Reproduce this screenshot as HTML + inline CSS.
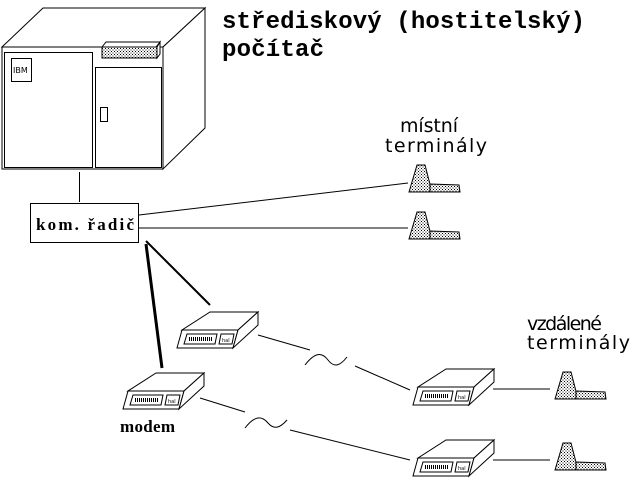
<!DOCTYPE html>
<html><head><meta charset="utf-8"><style>
html,body{margin:0;padding:0;background:#fff;}
svg{display:block;}
.t{font-family:"Liberation Mono",monospace;}
.s{font-family:"DejaVu Sans","Liberation Sans",sans-serif;}
</style></head><body>
<svg width="640" height="480" viewBox="0 0 640 480" xmlns="http://www.w3.org/2000/svg">
<defs>
<pattern id="dots" width="3" height="3" patternUnits="userSpaceOnUse">
<rect width="3" height="3" fill="#fff"/><rect x="0" y="0" width="1" height="1" fill="#000"/><rect x="1.5" y="1.5" width="1" height="1" fill="#000"/>
</pattern>
<g id="modem" fill="none" stroke="#000" stroke-width="1">
<polygon points="33,0 81,0 61,18 5,18" fill="#fff"/>
<polygon points="5,18 61,18 56,36 0,36" fill="#fff"/>
<polygon points="61,18 81,0 81,13 56,36" fill="#fff"/>
<polygon points="10,22 40,22 38,32 7,32"/>
<polygon points="44,22 57,22 55,32 42,32"/>
<line x1="12" y1="27" x2="36" y2="27" stroke-width="4" stroke-dasharray="1,1"/>
<text x="45" y="30" font-size="5" fill="#000" stroke="none" class="s">hal</text>
</g>
<g id="term">
<polygon points="0,27 8,0 16,0 23,27" fill="url(#dots)" stroke="#000"/>
<polygon points="21,19 50,20 51,27 21,27" fill="url(#dots)" stroke="#000"/>
</g>
</defs>
<g fill="none" stroke="#000" stroke-width="1">
<polygon points="2,47 43,8 205,8 163,47" fill="#fff"/>
<polygon points="163,47 205,8 205,128 163,169" fill="#fff"/>
<rect x="2" y="47" width="161" height="122" fill="#fff"/>
<rect x="4.5" y="52.5" width="88" height="115"/>
<rect x="95.5" y="67.5" width="66" height="100"/>
<rect x="11.5" y="58.5" width="20" height="23"/>
<rect x="100.5" y="107.5" width="7" height="14"/>
<polygon points="102,47 106,42 160,42 156,47" fill="#fff"/>
<rect x="102" y="47" width="55" height="11" fill="url(#dots)"/>
<polygon points="157,47 160,42 160,54 157,58" fill="#fff"/>
</g>
<text x="13" y="73" font-size="8" class="s">IBM</text>
<line x1="79.5" y1="172" x2="79.5" y2="202" stroke="#000"/>
<rect x="30.5" y="203.5" width="108" height="39" fill="#fff" stroke="#000"/>
<text x="36" y="230" font-size="17" font-weight="bold" textLength="98" font-family="Liberation Serif">kom. řadič</text>
<g stroke="#000" fill="none">
<line x1="139" y1="215" x2="408" y2="183"/>
<line x1="139" y1="228" x2="408" y2="228"/>
<line x1="146" y1="244" x2="162" y2="368" stroke-width="3"/>
<line x1="146" y1="241" x2="210" y2="305" stroke-width="2"/>
<line x1="258" y1="335" x2="310" y2="350"/>
<path d="M305,365 C315,352 322,352 328,360 C334,368 340,366 347,357"/>
<line x1="355" y1="366" x2="410" y2="390"/>
<line x1="200" y1="398" x2="245" y2="412"/>
<path d="M245,428 C255,415 262,416 268,423 C274,430 280,428 287,420"/>
<line x1="290" y1="430" x2="410" y2="460"/>
<line x1="493" y1="389" x2="550" y2="389"/>
<line x1="493" y1="460" x2="550" y2="460"/>
</g>
<use href="#modem" x="177" y="312"/>
<use href="#modem" x="123" y="373"/>
<use href="#modem" x="413" y="369"/>
<use href="#modem" x="413" y="440"/>
<use href="#term" x="409" y="165"/>
<use href="#term" x="409" y="212"/>
<use href="#term" x="555" y="372"/>
<use href="#term" x="555" y="443"/>
<text x="222" y="28" font-size="24" font-weight="bold" class="t" textLength="363">střediskový (hostitelský)</text>
<text x="222" y="56" font-size="24" font-weight="bold" class="t" textLength="102">počítač</text>
<text x="400" y="132" font-size="19" class="s" textLength="58">místní</text>
<text x="385" y="152" font-size="19" class="s" textLength="102">terminály</text>
<text x="527" y="330" font-size="19" class="s" textLength="75">vzdálené</text>
<text x="527" y="349" font-size="19" class="s" textLength="103">terminály</text>
<text x="120" y="432" font-size="17" font-weight="bold" font-family="Liberation Serif" textLength="55">modem</text>
</svg>
</body></html>
